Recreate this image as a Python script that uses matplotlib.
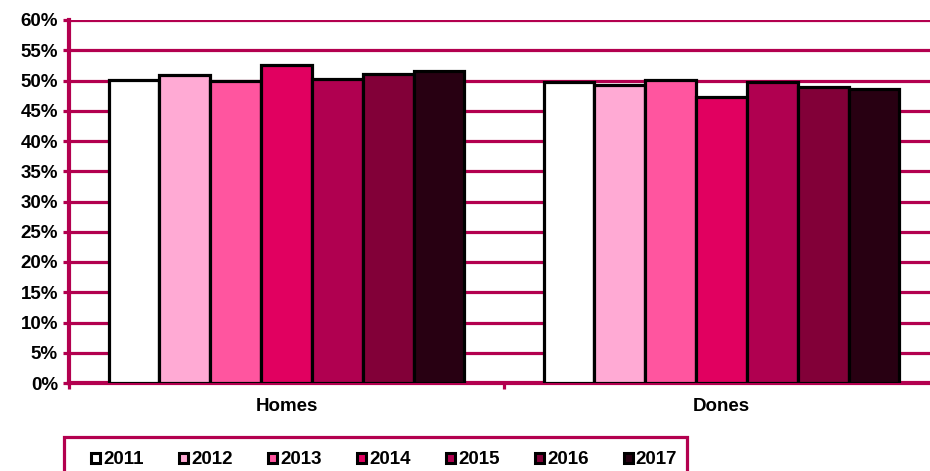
import matplotlib.pyplot as plt
from matplotlib.patches import Patch, Rectangle
import numpy as np

plt.rcParams['font.family'] = ['Liberation Sans', 'DejaVu Sans']

categories = ['Homes', 'Dones']
years = ['2011', '2012', '2013', '2014', '2015', '2016', '2017']
values = {
    '2011': [50.1, 49.8],
    '2012': [50.9, 49.2],
    '2013': [49.9, 50.1],
    '2014': [52.6, 47.3],
    '2015': [50.2, 49.8],
    '2016': [51.1, 49.0],
    '2017': [51.5, 48.6],
}
colors = ['#FFFFFF', '#FFAAD4', '#FF559F', '#E10060', '#B00050', '#820038', '#280012']
axcol = '#B3004F'

fig = plt.figure(figsize=(9.3, 4.71), dpi=100)
ax = fig.add_axes([69/930, 1-383/471, (939-69)/930, (383-20)/471])

x = np.arange(len(categories))
w = 0.818 / len(years)
for i, yr in enumerate(years):
    ax.bar(x + (i - 3) * w, values[yr], width=w, color=colors[i],
           edgecolor='black', linewidth=2.3, zorder=3)

ax.set_xlim(-0.5, 1.5)
ax.set_ylim(0, 60)
ax.set_yticks(np.arange(0, 61, 5))
ax.set_yticklabels(['%d%%' % v for v in range(0, 61, 5)], fontsize=13.5, fontweight='bold')
ax.yaxis.grid(True, color=axcol, linewidth=2.3, zorder=1)
ax.set_axisbelow(True)

ax.set_xticks(x)
ax.set_xticklabels(categories, fontsize=13.5, fontweight='bold')
ax.set_xticks([-0.5, 0.5, 1.5], minor=True)
ax.tick_params(axis='x', which='major', length=0, pad=11)
ax.tick_params(axis='x', which='minor', length=4, width=2.3, color=axcol)
ax.tick_params(axis='y', length=4, width=2.3, color=axcol, pad=4)

for s in ['top', 'right']:
    ax.spines[s].set_visible(False)
for s in ['left', 'bottom']:
    ax.spines[s].set_color(axcol)
    ax.spines[s].set_linewidth(3)

# legend box, cut off by the bottom edge like the original
fig.patches.append(Rectangle((64/930, -0.05), (687-64)/930, (1-437/471)+0.05,
                             transform=fig.transFigure, fill=False,
                             edgecolor=axcol, linewidth=2.3))

handles = [Patch(facecolor=c, edgecolor='black', linewidth=2.2) for c in colors]
leg = fig.legend(handles, years, ncol=7, loc='center left',
                 bbox_to_anchor=(91/930, 1-460/471),
                 frameon=False, prop={'size': 13.5, 'weight': 'bold'},
                 handlelength=0.5, handleheight=0.5, handletextpad=0.15,
                 columnspacing=1.88, borderaxespad=0.0, borderpad=0.0)

fig.savefig('out.png', dpi=100)
